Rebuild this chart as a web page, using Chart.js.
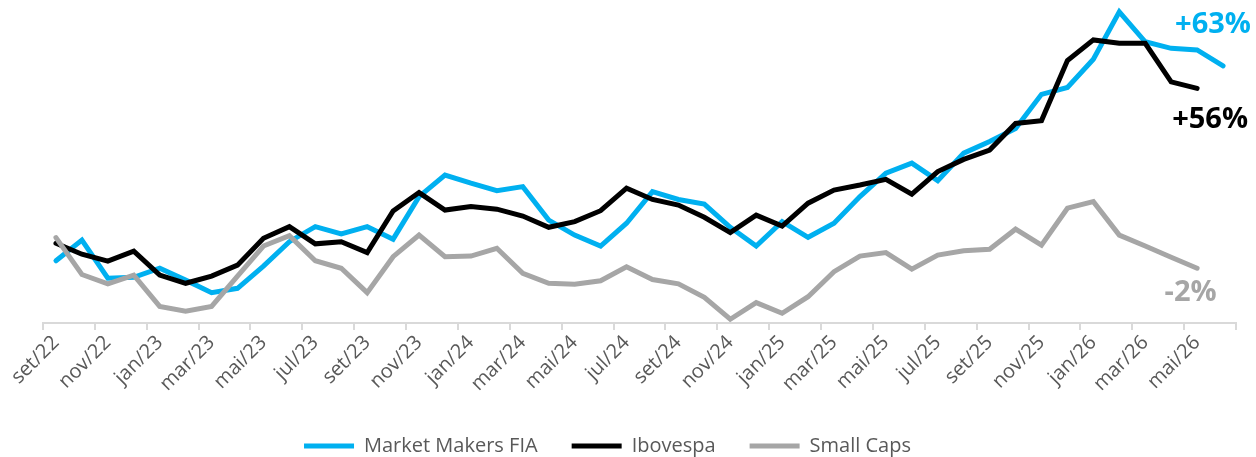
<!DOCTYPE html>
<html><head><meta charset="utf-8">
<script src="https://cdn.jsdelivr.net/npm/chart.js@4"></script>
<style>html,body{margin:0;padding:0;background:#fff}</style>
</head><body>
<canvas id="c" width="1256" height="457"></canvas>
<script>
const categories = ['set/22','out/22','nov/22','dez/22','jan/23','fev/23','mar/23','abr/23','mai/23','jun/23','jul/23','ago/23',
  'set/23','out/23','nov/23','dez/23','jan/24','fev/24','mar/24','abr/24','mai/24','jun/24','jul/24','ago/24',
  'set/24','out/24','nov/24','dez/24','jan/25','fev/25','mar/25','abr/25','mai/25','jun/25','jul/25','ago/25',
  'set/25','out/25','nov/25','dez/25','jan/26','fev/26','mar/26','abr/26','mai/26','jun/26'];
const marketMakers = [0.4, 7.0, -5.2, -4.9, -2.0, -5.8, -9.8, -8.4, -1.3, 6.5, 11.3, 9.0, 11.3, 7.3, 20.9, 27.8, 25.2, 22.8, 24.1, 13.4,
  8.6, 5.1, 12.4, 22.5, 20.0, 18.5, 11.1, 5.1, 12.9, 7.9, 12.4, 20.9, 28.4, 31.6, 26.0, 34.8, 38.5, 42.7, 53.6, 55.8,
  64.8, 80.0, 70.4, 68.3, 67.8, 62.7];
const ibovespa = [6.0, 2.5, 0.3, 3.5, -4.2, -6.8, -4.5, -1.0, 7.6, 11.3, 5.8, 6.5, 3.0, 16.3, 22.2, 16.6, 17.7, 16.9, 14.7, 11.1,
  12.9, 16.4, 23.6, 20.0, 18.2, 14.3, 9.4, 15.0, 11.5, 18.8, 23.0, 24.6, 26.4, 21.7, 28.9, 32.8, 35.8, 44.3, 45.2, 64.4,
  71.0, 69.9, 69.9, 57.6, 55.5];
const smallCaps = [7.8, -4.0, -7.0, -4.2, -14.2, -15.7, -14.2, -4.5, 5.1, 8.4, 0.4, -2.0, -9.8, 1.7, 8.6, 1.7, 1.9, 4.4, -3.6, -6.8,
  -7.1, -6.0, -1.5, -5.6, -7.0, -11.3, -18.3, -13.0, -16.4, -11.1, -3.1, 1.9, 3.0, -2.3, 2.2, 3.6, 4.1, 10.5, 5.4, 17.2,
  19.3, 8.6, 5.1, 1.5, -2.0];
const seriesNames = ['Market Makers FIA', 'Ibovespa', 'Small Caps'];
const endLabels = ['+63%', '+56%', '-2%'];

const BLUE = '#00B0F0', BLACK = '#000000', GRAY = '#A6A6A6';

const endLabelPlugin = {
  id: 'endLabels',
  afterDatasetsDraw(chart) {
    const ctx = chart.ctx;
    chart.data.datasets.forEach((ds, i) => {
      const meta = chart.getDatasetMeta(i);
      const last = meta.data[ds.data.length - 1];
      if (!last) return;
      const o = ds.endLabel;
      ctx.save();
      ctx.font = 'bold 29px "Open Sans"';
      ctx.fillStyle = ds.borderColor;
      ctx.textAlign = 'center';
      ctx.textBaseline = 'middle';
      ctx.fillText(o.text, last.x + o.dx, last.y + o.dy);
      ctx.restore();
    });
  }
};

const legendShift = {
  id: 'legendShift',
  afterLayout(chart) {
    if (chart.legend) { chart.legend.left -= 64; }
  }
};

const common = { borderWidth: 5, pointRadius: 0, pointHoverRadius: 0, tension: 0, fill: false,
  borderJoinStyle: 'miter', borderCapStyle: 'round', clip: false };

new Chart(document.getElementById('c'), {
  type: 'line',
  data: {
    labels: categories,
    datasets: [
      Object.assign({ label: seriesNames[0], data: marketMakers, borderColor: BLUE, backgroundColor: BLUE, order: 2,
        endLabel: { text: endLabels[0], dx: -10, dy: -41 } }, common),
      Object.assign({ label: seriesNames[1], data: ibovespa, borderColor: BLACK, backgroundColor: BLACK, order: 1,
        endLabel: { text: endLabels[1], dx: 13, dy: 31 } }, common),
      Object.assign({ label: seriesNames[2], data: smallCaps, borderColor: GRAY, backgroundColor: GRAY, order: 0,
        endLabel: { text: endLabels[2], dx: -6.5, dy: 24.5 } }, common)
    ]
  },
  options: {
    responsive: false,
    animation: false,
    events: [],
    layout: { padding: { top: 5.5, left: 43, right: 20, bottom: -9 } },
    scales: {
      x: {
        type: 'category',
        offset: true,
        grid: {
          display: true, drawOnChartArea: false, drawTicks: true, tickLength: 7, offset: true, lineWidth: 2,
          color: c => (c.index === undefined || c.index % 2 === 0) ? '#D9D9D9' : 'rgba(0,0,0,0)'
        },
        border: { display: true, color: '#D9D9D9', width: 2 },
        ticks: {
          autoSkip: false, minRotation: 45, maxRotation: 45, padding: 1, color: '#595959',
          font: { family: 'Open Sans', size: 20 },
          callback: (v, i) => (i % 2 === 0 ? categories[i] : '')
        },
        afterFit: s => { s.height = 79; }
      },
      y: { display: false, min: -19.5, max: 82 }
    },
    plugins: {
      tooltip: { enabled: false },
      legend: {
        position: 'bottom',
        labels: {
          usePointStyle: true, pointStyle: 'line', pointStyleWidth: 50, padding: 34,
          color: '#595959', font: { family: 'Open Sans', size: 20 },
          sort: (a, b) => a.datasetIndex - b.datasetIndex
        }
      }
    }
  },
  plugins: [endLabelPlugin, legendShift]
});
</script>
</body></html>
